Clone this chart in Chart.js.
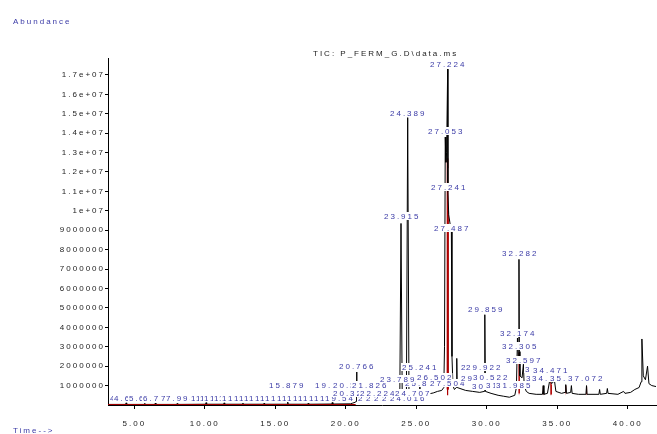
<!DOCTYPE html>
<html>
<head>
<meta charset="utf-8">
<script src="https://cdn.jsdelivr.net/npm/chart.js@4"></script>
<style>
  html, body { margin: 0; padding: 0; background: #fff; }
  #wrap { width: 657px; height: 434px; }
</style>
</head>
<body>
<div id="wrap"><canvas id="tic"></canvas></div>
<script>
// retention time (min) / abundance
const earlyTimes = [3.13, 4.38, 4.42, 4.46, 5.70, 5.74, 5.78, 6.45, 6.49, 6.53, 8.00, 8.04, 8.08,
  10.05, 10.09, 10.13, 11.33, 11.37, 11.41, 12.66, 12.70, 12.74, 14.16, 14.20, 14.24,
  15.84, 15.88, 15.92, 17.29, 17.33, 17.37, 19.00, 19.04, 19.08, 20.32];
const earlyCounts = [30000, 30000, 110000, 30000, 30000, 90000, 30000, 30000, 100000, 30000, 30000, 80000, 30000,
  40000, 120000, 40000, 40000, 110000, 40000, 40000, 100000, 40000, 40000, 90000, 40000,
  40000, 150000, 40000, 40000, 90000, 40000, 50000, 130000, 50000, 60000];

const mainTimes = [20.50, 20.70, 20.74, 20.766, 20.79, 21.00, 21.50, 21.82, 22.00, 22.22, 22.50, 23.00,
  23.50, 23.79, 23.83, 23.915, 24.00, 24.20, 24.30, 24.389, 24.48, 24.71, 25.00, 25.20, 25.241, 25.28,
  25.50, 25.80, 26.20, 26.50, 26.80, 26.95, 27.00, 27.053, 27.10, 27.15, 27.224, 27.241, 27.30, 27.40,
  27.487, 27.53, 27.60, 27.70, 27.84, 27.87, 27.90];
const mainCounts = [100000, 150000, 200000, 1700000, 200000, 220000, 250000, 320000, 300000, 380000, 330000, 350000,
  400000, 480000, 500000, 9350000, 500000, 520000, 550000, 14800000, 550000, 450000, 480000, 520000, 1400000, 520000,
  500000, 560000, 620000, 700000, 750000, 900000, 3000000, 13800000, 12500000, 13000000, 17300000, 11000000, 9800000, 9300000,
  9000000, 2500000, 1000000, 800000, 900000, 2400000, 900000];

const lateTimes = [28.10, 28.50, 29.00, 29.50, 29.82, 29.859, 29.90, 30.30, 30.80, 31.20, 31.60, 31.985,
  32.10, 32.174, 32.23, 32.282, 32.305, 32.35, 32.50, 32.597, 32.65, 32.80, 33.00, 33.50, 33.95, 34.00,
  34.05, 34.30, 34.471, 34.60, 34.80, 34.90, 35.30, 35.55, 35.60, 35.65, 35.95, 36.00, 36.05, 36.50,
  37.03, 37.072, 37.11, 37.95, 38.00, 38.05, 38.50, 38.55, 38.60, 39.30, 39.70, 39.80, 40.20, 40.50,
  40.80, 40.95, 41.00, 41.10, 41.25, 41.40, 41.50, 41.70, 42.00];
const lateCounts = [850000, 750000, 700000, 650000, 700000, 4650000, 700000, 600000, 500000, 450000, 400000, 500000,
  900000, 3450000, 2500000, 7500000, 2750000, 1500000, 1400000, 2100000, 1000000, 700000, 600000, 550000, 550000, 1000000,
  550000, 600000, 1300000, 1100000, 1250000, 700000, 600000, 650000, 1050000, 600000, 650000, 1000000, 600000, 550000,
  550000, 1000000, 550000, 550000, 800000, 550000, 600000, 850000, 600000, 550000, 700000, 600000, 650000, 800000,
  900000, 1200000, 3400000, 1500000, 1300000, 2000000, 1100000, 1000000, 950000];

// integrated areas (red), null = gap
const areaTimes = [27.17, 27.18, 27.24, 27.27, 27.28, null,
  32.26, 32.27, 32.30, 32.31, null,
  33.99, 34.00, 34.02, null, 34.51, 34.52, 34.58, 34.59, null,
  35.59, 35.60, 35.62, null, 37.06, 37.072, 37.085];
const areaCounts = [800000, 12700000, 12200000, 10000000, 800000, null,
  600000, 2700000, 2600000, 600000, null,
  550000, 950000, 550000, null, 550000, 1200000, 1050000, 550000, null,
  600000, 1000000, 600000, null, 550000, 950000, 550000];
const baselineTimes = [3.13, 20.70];
const baselineCounts = [25000, 25000];

// peak labels: text, centre (min), text baseline (abundance)
const labelText = [
  '4.382', '4.655', '5.690', '6.441', '6.736', '7.986', '7.998',
  '10.04', '10.39', '10.67', '10.96', '11.31', '11.60', '11.95', '12.23', '12.66', '13.09', '13.44',
  '13.80', '14.15', '14.57', '14.93', '15.28', '15.71', '16.13', '16.49', '16.84', '17.27', '17.62',
  '17.98', '18.40', '18.76', '19.11', '19.54', '21.734', '22.287', '22.905', '23.421', '24.016',
  '20.322', '22.224', '24.707',
  '15.879', '19.043', '20.318', '21.826', '25.816', '27.504', '30.118', '31.205', '31.985',
  '23.789', '26.502', '29.143', '30.522', '33.871', '34.763', '35.581', '37.072',
  '20.766', '25.241', '28.950', '29.922', '33.902', '34.471',
  '32.597', '32.305', '32.174', '29.859', '32.282', '27.487', '23.915', '27.241', '27.053', '24.389', '27.224'];
const labelAt = [
  4.27, 4.55, 5.62, 6.33, 6.61, 7.89, 8.24,
  10.04, 10.39, 10.67, 10.96, 11.31, 11.60, 11.95, 12.23, 12.66, 13.09, 13.44,
  13.80, 14.15, 14.57, 14.93, 15.28, 15.71, 16.13, 16.49, 16.84, 17.27, 17.62,
  17.98, 18.40, 18.76, 19.11, 19.54, 22.09, 22.66, 23.23, 23.80, 24.37,
  20.32, 22.22, 24.71,
  15.81, 19.04, 20.32, 21.67, 25.42, 27.20, 30.14, 31.20, 31.90,
  23.65, 26.28, 29.40, 30.25, 34.01, 34.42, 35.71, 37.00,
  20.766, 25.241, 29.40, 29.74, 33.95, 34.471,
  32.597, 32.305, 32.174, 29.859, 32.282, 27.487, 23.915, 27.241, 27.053, 24.389, 27.224];
const labelLevel = [
  226000, 226000, 226000, 226000, 226000, 226000, 226000,
  226000, 226000, 226000, 226000, 226000, 226000, 226000, 226000, 226000, 226000, 226000,
  226000, 226000, 226000, 226000, 226000, 226000, 226000, 226000, 226000, 226000, 226000,
  226000, 226000, 226000, 226000, 226000, 226000, 226000, 226000, 226000, 226000,
  458000, 458000, 458000,
  870000, 870000, 870000, 870000, 960000, 960000, 800000, 870000, 870000,
  1200000, 1290000, 1230000, 1300000, 1230000, 1230000, 1230000, 1230000,
  1860000, 1790000, 1790000, 1790000, 1700000, 1650000,
  2170000, 2900000, 3530000, 4770000, 7650000, 8970000, 9590000, 11080000, 13960000, 14890000, 17430000];

const yTicks = [1000000, 2000000, 3000000, 4000000, 5000000, 6000000, 7000000, 8000000, 9000000,
  10000000, 11000000, 12000000, 13000000, 14000000, 15000000, 16000000, 17000000];
const xTicks = [5, 10, 15, 20, 25, 30, 35, 40];

const FONT = '"Liberation Sans", Arial, sans-serif';
const LABEL_BLUE = '#3a3aa6';

function pts(ts, vs) {
  return ts.map((t, i) => (t === null ? { x: NaN, y: null } : { x: t, y: vs[i] }));
}

const textPlugin = {
  id: 'textPlugin',
  beforeDraw(chart) {
    chart.ctx.letterSpacing = '2px';
  },
  afterDatasetsDraw(chart) {
    const { ctx, scales: { x, y } } = chart;
    ctx.save();
    ctx.font = '8px ' + FONT;
    ctx.letterSpacing = '2px';
    ctx.textAlign = 'left';
    ctx.textBaseline = 'alphabetic';
    labelText.forEach((txt, i) => {
      const w = ctx.measureText(txt).width - 2;
      const left = Math.round(x.getPixelForValue(labelAt[i]) - w / 2);
      const base = Math.round(y.getPixelForValue(labelLevel[i]));
      ctx.fillStyle = '#fff';
      ctx.fillRect(left - 1, base - 7, w + 2, 8);
      ctx.fillStyle = LABEL_BLUE;
      ctx.fillText(txt, left, base);
    });
    ctx.restore();
  },
  afterDraw(chart) {
    const ctx = chart.ctx;
    ctx.save();
    ctx.font = '8px ' + FONT;
    ctx.letterSpacing = '2px';
    ctx.textBaseline = 'alphabetic';
    ctx.fillStyle = LABEL_BLUE;
    ctx.fillText('Abundance', 13, 24);
    ctx.fillText('Time-->', 13, 433);
    ctx.fillStyle = '#222';
    ctx.fillText('TIC: P_FERM_G.D\\data.ms', 313, 56);
    ctx.restore();
  }
};

new Chart(document.getElementById('tic'), {
  type: 'line',
  data: {
    datasets: [
      {
        data: pts(baselineTimes, baselineCounts),
        borderColor: '#a00000', borderWidth: 1, pointRadius: 0, fill: false, order: 0
      },
      {
        data: pts(earlyTimes.concat(mainTimes, lateTimes), earlyCounts.concat(mainCounts, lateCounts)),
        borderColor: '#000', borderWidth: 1, pointRadius: 0, fill: false, order: 1
      },
      {
        data: pts(areaTimes, areaCounts),
        borderColor: '#b00000', backgroundColor: '#b00000', borderWidth: 0.6, pointRadius: 0,
        fill: { value: 500000 }, spanGaps: false, order: 2
      }
    ]
  },
  options: {
    responsive: true,
    maintainAspectRatio: false,
    animation: false,
    events: [],
    layout: { padding: { top: 58, right: 1, left: 0, bottom: 0 } },
    plugins: { legend: { display: false }, tooltip: { enabled: false }, title: { display: false } },
    elements: { line: { tension: 0 } },
    scales: {
      x: {
        type: 'linear',
        min: 3.134,
        max: 42.0,
        afterFit: s => { s.height = 29; },
        afterBuildTicks: s => { s.ticks = xTicks.map(v => ({ value: v })); },
        grid: { drawOnChartArea: false, drawTicks: true, tickLength: 4, color: '#000' },
        border: { color: '#000', width: 1 },
        ticks: {
          autoSkip: false, maxRotation: 0, padding: 10,
          color: '#222', font: { family: FONT, size: 8 },
          callback: v => v.toFixed(2)
        }
      },
      y: {
        min: 0,
        max: 17870000,
        afterFit: s => { s.width = 108; },
        afterBuildTicks: s => { s.ticks = yTicks.map(v => ({ value: v })); },
        grid: { drawOnChartArea: false, drawTicks: true, tickLength: 3, color: '#000' },
        border: { color: '#000', width: 1, dash: [1, 1] },
        ticks: {
          autoSkip: false, padding: 0,
          color: '#222', font: { family: FONT, size: 8 },
          callback: v => (v >= 10000000 ? (v / 10000000).toString() + 'e+07' : String(v))
        }
      }
    }
  },
  plugins: [textPlugin]
});
</script>
</body>
</html>
